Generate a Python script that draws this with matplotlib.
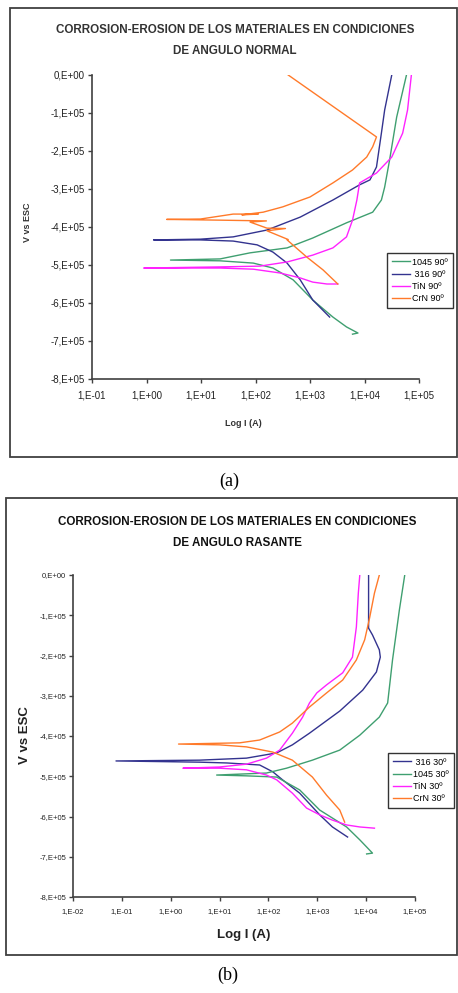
import numpy as np
import matplotlib.pyplot as plt
from matplotlib.patches import Rectangle

plt.rcParams['font.family'] = ['Liberation Sans Narrow', 'Liberation Sans', 'DejaVu Sans']

W, H = 458, 993  # tamaño en pixeles

# ---- (a) angulo normal: log10 I y V (x1e5) ----
logi_1045_90 = [3.78, 3.88, 3.67, 3.42, 3.05, 2.69, 2.32, 1.96, 1.35, 0.44, 1.35, 1.90, 2.58, 3.05, 3.67, 4.15, 4.31, 4.37, 4.46, 4.59, 4.77]
v_1045_90 = [-6.82, -6.79, -6.63, -6.37, -5.92, -5.39, -5.08, -4.95, -4.89, -4.87, -4.84, -4.68, -4.55, -4.29, -3.89, -3.61, -3.29, -2.95, -2.24, -1.11, 0.0]

logi_316_90 = [3.36, 3.05, 2.82, 2.58, 2.32, 2.03, 1.59, 0.99, 0.13, 0.99, 1.59, 2.21, 2.82, 3.42, 3.91, 4.10, 4.22, 4.31, 4.37, 4.50]
v_316_90 = [-6.37, -5.92, -5.39, -4.95, -4.66, -4.47, -4.37, -4.34, -4.34, -4.32, -4.26, -4.08, -3.74, -3.29, -2.89, -2.76, -2.42, -1.53, -0.92, 0.0]

logi_tin_90 = [3.51, 3.31, 3.05, 2.82, 2.45, 1.96, 1.35, -0.05, 1.35, 2.08, 2.58, 3.05, 3.42, 3.67, 3.78, 3.86, 3.91, 4.22, 4.50, 4.70, 4.79, 4.86]
v_tin_90 = [-5.50, -5.50, -5.45, -5.34, -5.21, -5.11, -5.08, -5.08, -5.05, -5.03, -4.92, -4.74, -4.55, -4.26, -3.82, -3.29, -2.84, -2.58, -2.16, -1.53, -0.92, 0.0]

logi_crn_90 = [3.51, 3.24, 2.94, 2.58, 2.60, 2.21, 2.55, 2.21, 1.90, 2.20, 1.35, 0.37, 0.99, 1.59, 2.05, 1.75, 2.14, 2.50, 3.00, 3.42, 3.78, 4.04, 4.15, 4.22, 2.60]
v_crn_90 = [-5.50, -5.13, -4.79, -4.34, -4.33, -4.10, -4.04, -4.03, -3.87, -3.84, -3.82, -3.80, -3.79, -3.66, -3.66, -3.68, -3.61, -3.47, -3.21, -2.84, -2.50, -2.16, -1.89, -1.63, 0.0]

# ---- (b) angulo rasante ----
logi_316_30 = [3.62, 3.31, 3.05, 2.64, 2.29, 2.09, 1.82, 1.15, 0.59, -1.12, 0.59, 1.55, 2.17, 2.49, 2.84, 3.46, 3.93, 4.21, 4.29, 4.27, 4.13, 4.05, 4.05]
v_316_30 = [-6.51, -6.26, -5.96, -5.42, -5.09, -4.89, -4.72, -4.67, -4.65, -4.62, -4.60, -4.55, -4.42, -4.22, -3.93, -3.38, -2.86, -2.41, -2.04, -1.86, -1.49, -1.32, 0.0]

logi_1045_30 = [4.01, 4.13, 3.87, 3.60, 3.05, 2.64, 2.17, 1.55, 0.94, 1.96, 2.37, 2.90, 3.46, 3.87, 4.27, 4.44, 4.54, 4.68, 4.79]
v_1045_30 = [-6.93, -6.91, -6.58, -6.26, -5.84, -5.34, -5.02, -4.99, -4.97, -4.92, -4.80, -4.60, -4.35, -3.98, -3.53, -3.18, -2.11, -0.87, 0.0]

logi_tin_30 = [4.17, 3.87, 3.60, 3.31, 3.05, 2.78, 2.49, 2.17, 1.96, 1.55, 1.00, 0.25, 1.00, 1.55, 1.96, 2.23, 2.49, 2.70, 2.84, 2.99, 3.19, 3.52, 3.72, 3.80, 3.84, 3.87]
v_tin_30 = [-6.29, -6.26, -6.21, -6.09, -5.96, -5.79, -5.42, -5.09, -4.97, -4.84, -4.80, -4.80, -4.77, -4.70, -4.55, -4.35, -3.93, -3.53, -3.18, -2.93, -2.73, -2.43, -2.04, -1.29, -0.45, 0.0]

logi_crn_30 = [3.56, 3.46, 3.19, 2.90, 2.49, 2.09, 1.55, 1.00, 0.16, 1.41, 1.82, 2.23, 2.49, 2.84, 3.19, 3.52, 3.80, 3.97, 4.07, 4.17, 4.27]
v_crn_30 = [-6.14, -5.84, -5.47, -5.02, -4.60, -4.40, -4.27, -4.22, -4.20, -4.17, -4.10, -3.90, -3.68, -3.28, -2.93, -2.61, -2.11, -1.61, -1.07, -0.45, 0.0]

y_ticks = [0, -1, -2, -3, -4, -5, -6, -7, -8]
y_labels = ['0,E+00'] + ['-%d,E+05' % k for k in range(1, 9)]
x_dec_a = [-1, 0, 1, 2, 3, 4, 5]
x_dec_b = [-2, -1, 0, 1, 2, 3, 4, 5]

C_GREEN = '#3f9f70'
C_BLUE = '#33338f'
C_MAG = '#ff22ff'
C_ORANGE = '#ff7a2a'


def fx(px):
    return px / W


def fy(py):
    return 1 - py / H


def box(px0, py0, px1, py1):
    r = Rectangle((fx(px0), fy(py1)), fx(px1) - fx(px0), fy(py0) - fy(py1),
                  transform=fig.transFigure, fill=False, edgecolor='#404040', lw=1.3)
    fig.patches.append(r)


def style_axes(ax, decs, fs):
    for s in ['top', 'right']:
        ax.spines[s].set_visible(False)
    for s in ['left', 'bottom']:
        ax.spines[s].set_color('#404040')
        ax.spines[s].set_linewidth(1.2)
    ax.set_xscale('log')
    ax.set_xlim(10.0 ** decs[0], 10.0 ** decs[-1])
    ax.set_ylim(-8e5, 0)
    ax.set_yticks([t * 1e5 for t in y_ticks])
    ax.set_yticklabels(y_labels)
    ax.set_xticks([10.0 ** d for d in decs])
    ax.set_xticklabels(['1,E%+03d' % d for d in decs])
    ax.minorticks_off()
    ax.tick_params(axis='both', direction='out', length=3, width=1, color='#404040',
                   labelsize=fs, labelcolor='#222222', pad=2)
    ax.tick_params(axis='x', pad=5)


fig = plt.figure(figsize=(W / 100, H / 100), dpi=100)

# ---------------- (a) ----------------
box(10, 8, 457, 457)
ax1 = fig.add_axes([fx(92), fy(379), fx(419) - fx(92), fy(75) - fy(379)])
ax1.plot(10.0 ** np.array(logi_1045_90), np.array(v_1045_90) * 1e5, color=C_GREEN, lw=1.0, label='1045 90º')
ax1.plot(10.0 ** np.array(logi_316_90), np.array(v_316_90) * 1e5, color=C_BLUE, lw=1.0, label=' 316 90º')
ax1.plot(10.0 ** np.array(logi_tin_90), np.array(v_tin_90) * 1e5, color=C_MAG, lw=1.0, label='TiN 90º')
ax1.plot(10.0 ** np.array(logi_crn_90), np.array(v_crn_90) * 1e5, color=C_ORANGE, lw=1.0, label='CrN 90º')
style_axes(ax1, x_dec_a, 7)
ax1.legend(loc='upper left', bbox_to_anchor=(fx(387), fy(253)), bbox_transform=fig.transFigure,
           fontsize=6.5, frameon=True, fancybox=False, edgecolor='black', borderpad=0.5,
           handlelength=2.0, handletextpad=0.3, labelspacing=0.35, borderaxespad=0)
fig.text(fx(235), fy(30), 'CORROSION-EROSION DE LOS MATERIALES EN CONDICIONES',
         ha='center', va='center', fontsize=8.4, fontweight='bold', color='#333333')
fig.text(fx(235), fy(51), 'DE ANGULO NORMAL',
         ha='center', va='center', fontsize=8.4, fontweight='bold', color='#333333')
fig.text(fx(243), fy(424), 'Log I (A)', ha='center', va='center', fontsize=6.5, fontweight='bold', color='#333333')
fig.text(fx(28), fy(222), 'V vs ESC', ha='center', va='center', rotation=90, fontsize=6.5,
         fontweight='bold', color='#333333')
fig.text(fx(229), fy(481), '(a)', ha='center', va='center', fontsize=13, family='Liberation Serif')

# ---------------- (b) ----------------
box(6, 498, 457, 955)
ax2 = fig.add_axes([fx(73), fy(897), fx(415) - fx(73), fy(575) - fy(897)])
ax2.plot(10.0 ** np.array(logi_316_30), np.array(v_316_30) * 1e5, color=C_BLUE, lw=1.0, label=' 316 30º')
ax2.plot(10.0 ** np.array(logi_1045_30), np.array(v_1045_30) * 1e5, color=C_GREEN, lw=1.0, label='1045 30º')
ax2.plot(10.0 ** np.array(logi_tin_30), np.array(v_tin_30) * 1e5, color=C_MAG, lw=1.0, label='TiN 30º')
ax2.plot(10.0 ** np.array(logi_crn_30), np.array(v_crn_30) * 1e5, color=C_ORANGE, lw=1.0, label='CrN 30º')
style_axes(ax2, x_dec_b, 5.5)
ax2.legend(loc='upper left', bbox_to_anchor=(fx(388), fy(753)), bbox_transform=fig.transFigure,
           fontsize=6.5, frameon=True, fancybox=False, edgecolor='black', borderpad=0.5,
           handlelength=2.0, handletextpad=0.3, labelspacing=0.35, borderaxespad=0)
fig.text(fx(237), fy(522), 'CORROSION-EROSION DE LOS MATERIALES EN CONDICIONES',
         ha='center', va='center', fontsize=8.4, fontweight='bold', color='#111111')
fig.text(fx(237), fy(543), 'DE ANGULO RASANTE',
         ha='center', va='center', fontsize=8.4, fontweight='bold', color='#111111')
fig.text(fx(244), fy(935), 'Log I (A)', ha='center', va='center', fontsize=9.5, fontweight='bold', color='#222222')
fig.text(fx(25), fy(735), 'V vs ESC', ha='center', va='center', rotation=90, fontsize=9.5,
         fontweight='bold', color='#222222')
fig.text(fx(228), fy(975), '(b)', ha='center', va='center', fontsize=13, family='Liberation Serif')

plt.savefig('out.png', dpi=100)
